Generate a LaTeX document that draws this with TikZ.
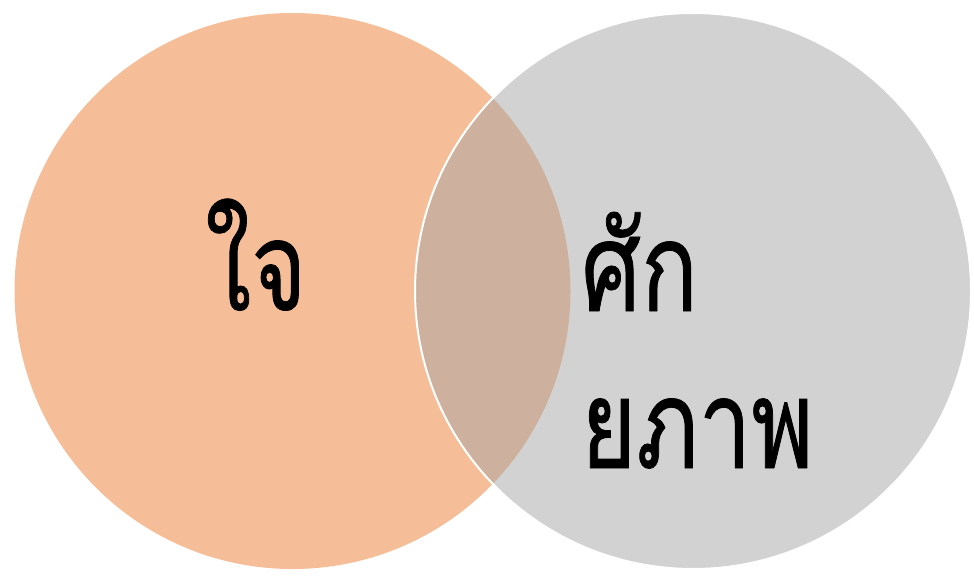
\documentclass[tikz,border=0pt]{standalone}
\usepackage{fontspec}
\newfontfamily\thaifont[Script=Thai,FakeStretch=0.76,FakeBold=0.6]{Loma}
\definecolor{orangeC}{HTML}{ED7D31}
\definecolor{greyC}{HTML}{A5A5A5}
\begin{document}
\begin{tikzpicture}[x=1pt,y=-1pt,
  circ/.style={circle, minimum size=556pt, inner sep=0pt, fill opacity=0.5},
  lbl/.style={anchor=base west, inner sep=0pt, font=\thaifont\fontsize{124}{158}\selectfont, text=black}]
\useasboundingbox (0,0) rectangle (974,577);
\node[circ, fill=orangeC] (left) at (292.5,291) {};
\node[circ, fill=greyC, draw=white, draw opacity=1, line width=2pt] (right) at (693,291) {};
\node[lbl] (t1) at (205,310) {ใจ};
\node[lbl] (t2) at (581,311) {ศัก};
\node[lbl] (t3) at (581,468) {ยภาพ};
\end{tikzpicture}
\end{document}
